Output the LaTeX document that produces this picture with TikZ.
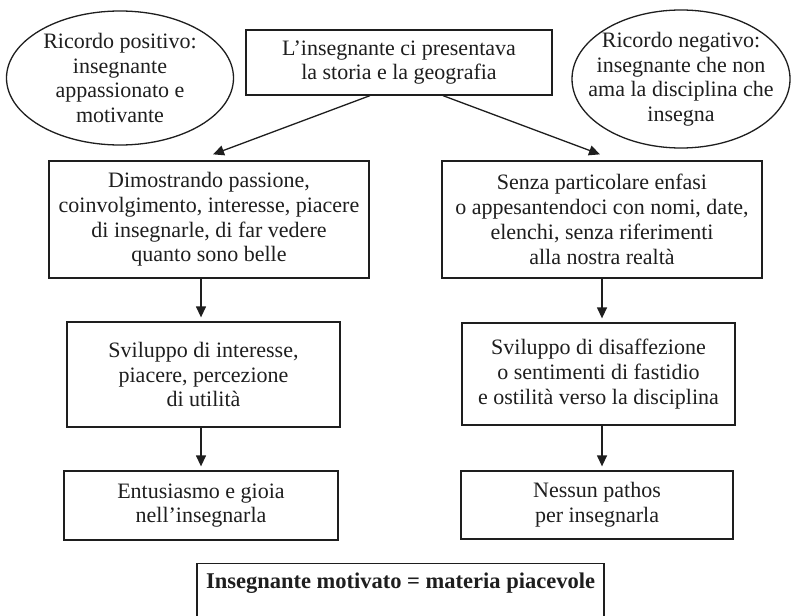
\documentclass[tikz,border=0pt]{standalone}
\usepackage{fontspec}
\setmainfont{Liberation Serif}
\usetikzlibrary{shapes.geometric,arrows.meta}
\definecolor{ink}{HTML}{1E1E1E}
\begin{document}
\begin{tikzpicture}[x=1pt,y=-1pt,
  every node/.style={font=\fontsize{22}{24.8}\selectfont, align=center, inner sep=0pt, text=ink},
  box/.style={draw=ink, line width=1.3pt, rectangle},
  oval/.style={draw=ink, line width=1.3pt, ellipse, inner xsep=-30pt, inner ysep=-4pt,
               font=\fontsize{22}{24.5}\selectfont},
  arr/.style={draw=ink, line width=1.3pt, -{Triangle[length=11pt,width=10pt]}, shorten >=4pt}]
\useasboundingbox (0,0) rectangle (791,615);
\fill[white] (0,0) rectangle (791,615);

% top row: the two memories and the starting statement
\node[oval, minimum width=227pt, minimum height=134pt] (ricpos) at (120,78)
  {Ricordo positivo:\\insegnante\\appassionato e\\motivante};
\node[oval, minimum width=218pt, minimum height=138pt] (ricneg) at (681,79)
  {Ricordo negativo:\\insegnante che non\\ama la disciplina che\\insegna};
\node[box, minimum width=306pt, minimum height=65pt] (start) at (399,62.5)
  {L'insegnante ci presentava\\la storia e la geografia};

% positive branch
\node[box, minimum width=320pt, minimum height=117pt] (posA) at (209,219.5)
  {Dimostrando passione,\\coinvolgimento, interesse, piacere\\di insegnarle, di far vedere\\quanto sono belle};
\node[box, minimum width=273pt, minimum height=105pt] (posB) at (203.5,374.5)
  {Sviluppo di interesse,\\piacere, percezione\\di utilità};
\node[box, minimum width=274pt, minimum height=69pt] (posC) at (201,505.5)
  {Entusiasmo e gioia\\nell'insegnarla};

% negative branch
\node[box, minimum width=320pt, minimum height=117pt] (negA) at (602,219.5)
  {Senza particolare enfasi\\o appesantendoci con nomi, date,\\elenchi, senza riferimenti\\alla nostra realtà};
\node[box, minimum width=273pt, minimum height=102pt] (negB) at (598.5,374)
  {Sviluppo di disaffezione\\o sentimenti di fastidio\\e ostilità verso la disciplina};
\node[box, minimum width=272pt, minimum height=68pt] (negC) at (597,505)
  {Nessun pathos\\per insegnarla};

% conclusion, running off the lower edge
\node[box, anchor=north, minimum width=407pt, text height=25pt, text depth=60pt,
      font=\fontsize{22.5}{24.8}\selectfont\bfseries] (concl) at (400.5,563)
  {Insegnante motivato = materia piacevole};

% connectors
\draw[arr, shorten >=0pt] ([xshift=-29pt]start.south) -- ([xshift=4pt,yshift=6pt]posA.north);
\draw[arr, shorten >=0pt] ([xshift=44pt]start.south) -- ([xshift=-2pt,yshift=6pt]negA.north);
\draw[arr] ([xshift=-8pt]posA.south) -- ([xshift=-2.5pt]posB.north);
\draw[arr] ([xshift=-2.5pt]posB.south) -- (posC.north);
\draw[arr] (negA.south) -- ([xshift=3.5pt]negB.north);
\draw[arr] ([xshift=3.5pt]negB.south) -- ([xshift=5pt]negC.north);
\end{tikzpicture}
\end{document}
